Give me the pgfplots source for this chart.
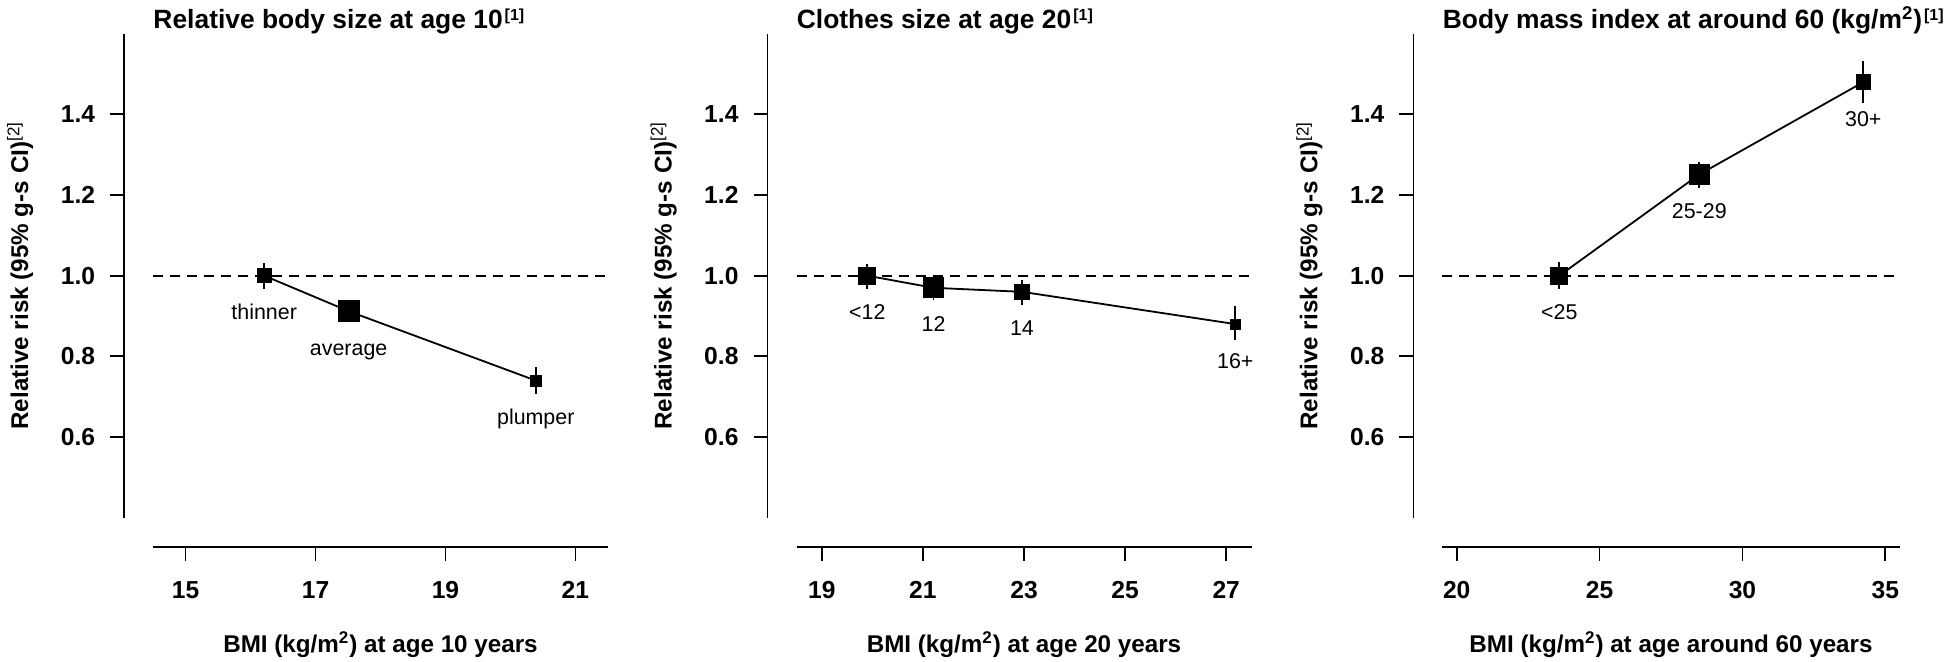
\documentclass[border=0pt]{standalone}
\usepackage{fontspec}
\setmainfont{Liberation Sans}
\usepackage{pgfplots}
\usepackage{pgfplotstable}
\pgfplotsset{compat=1.18}

% x  y  lo  hi  ms(mark size, pt)  lab
\pgfplotstableread{
x     y     lo    hi    ms    lab
16.21 1.000 0.967 1.032 3.45  thinner
17.51 0.912 0.900 0.925 5.20  average
20.39 0.740 0.707 0.774 2.70  plumper
}\tabA
\pgfplotstableread{
x     y     lo    hi    ms    lab
19.90 1.000 0.967 1.030 4.20  <12
21.21 0.970 0.940 0.995 4.95  12
22.96 0.960 0.928 0.989 3.95  14
27.18 0.880 0.840 0.925 2.45  16+
}\tabB
\pgfplotstableread{
x     y     lo    hi    ms    lab
23.59 1.000 0.967 1.033 4.20  <25
28.49 1.251 1.218 1.281 4.95  25-29
34.23 1.480 1.429 1.533 3.70  30+
}\tabC

\newcommand{\fs}{\fontsize{10.7}{13}\selectfont}
\newcommand{\ft}{\fontsize{12.3}{14}\selectfont}
\newcommand{\fl}{\fontsize{12.1}{14}\selectfont}
\newcommand{\fh}{\fontsize{13.2}{15}\selectfont}
\newcommand{\fnref}[1]{\hspace{1pt}\raisebox{3.9pt}{\fontsize{8}{9}\selectfont [#1]}}

\pgfplotsset{
  panel/.style={
    scale only axis, height=242pt, anchor=south west,
    ymin=0.4, ymax=1.6,
    axis x line*=bottom, axis y line*=left,
    axis x line shift=14.5pt, axis y line shift=14.5pt,
    axis line style={line width=0.9pt, black},
    tick align=outside, major tick length=7pt,
    tick style={line width=0.9pt, black},
    ytick={0.6,0.8,1.0,1.2,1.4},
    /pgf/number format/assume math mode=true,
    yticklabel style={/pgf/number format/fixed, /pgf/number format/fixed zerofill,
      /pgf/number format/precision=1, xshift=-4pt},
    xticklabel style={yshift=-7pt},
    tick label style={font=\bfseries\ft},
    clip=false,
  },
  ciplot/.style={
    black, only marks, mark=square*, scatter,
    scatter/use mapped color={draw=black, fill=black},
    visualization depends on={\thisrow{ms}\as\msz},
    scatter/@pre marker code/.append style={/tikz/mark size=\msz},
    /pgfplots/error bars/y dir=both, /pgfplots/error bars/y explicit,
    /pgfplots/error bars/error mark=none,
    /pgfplots/error bars/error bar style={line width=0.9pt, black},
  },
  labplot/.style={
    draw=none, mark=none, nodes near coords, point meta=explicit symbolic,
    nodes near coords style={anchor=base, yshift=-22pt, font=\fs, black},
  },
}

\newcommand{\panel}[5]{% table, xmin, xmax, title, xlabel
  \addplot[black, dash pattern=on 5pt off 3.5pt, line width=0.9pt] coordinates {(#2,1) (#3,1)};
  \addplot[black, line width=0.9pt, mark=none] table[x=x, y=y] {#1};
  \addplot[point meta=\thisrow{ms}, ciplot] table[x=x, y=y,
    y error plus expr=\thisrow{hi}-\thisrow{y},
    y error minus expr=\thisrow{y}-\thisrow{lo}] {#1};
  \addplot[labplot] table[x=x, y=y, meta=lab] {#1};
  \node[anchor=base west, font=\bfseries\fh, inner sep=0pt] at ([yshift=2.5pt]rel axis cs:0,1) {#4};
  \node[anchor=base, font=\bfseries\fl, inner sep=0pt] at ([yshift=-67.2pt]rel axis cs:0.5,0) {#5};
  \node[anchor=base, rotate=90, font=\bfseries\fl, inner sep=0pt] at ([xshift=-62.5pt]rel axis cs:0,0.5)
    {Relative risk (95\% g-s CI)\textsuperscript{\mdseries[2]}};
}

\begin{document}
\begin{tikzpicture}
\path[use as bounding box] (0,0) rectangle (972pt,331pt);

\begin{axis}[panel, at={(76.55pt,72.15pt)}, width=227.4pt,
  xmin=14.5, xmax=21.5, xtick={15,17,19,21}]
  \panel{\tabA}{14.5}{21.5}{Relative body size at age 10\fnref{1}}
    {BMI (kg/m\textsuperscript{2}) at age 10 years}
\end{axis}

\begin{axis}[panel, at={(398.25pt,72.15pt)}, width=227.5pt,
  xmin=18.5, xmax=27.5, xtick={19,21,23,25,27}]
  \panel{\tabB}{18.5}{27.5}{Clothes size at age 20\fnref{1}}
    {BMI (kg/m\textsuperscript{2}) at age 20 years}
\end{axis}

\begin{axis}[panel, at={(721.2pt,72.15pt)}, width=228.6pt,
  xmin=19.5, xmax=35.5, xtick={20,25,30,35}]
  \panel{\tabC}{19.5}{35.5}{Body mass index at around 60 (kg/m\textsuperscript{2})\fnref{1}}
    {BMI (kg/m\textsuperscript{2}) at age around 60 years}
\end{axis}
\end{tikzpicture}
\end{document}
